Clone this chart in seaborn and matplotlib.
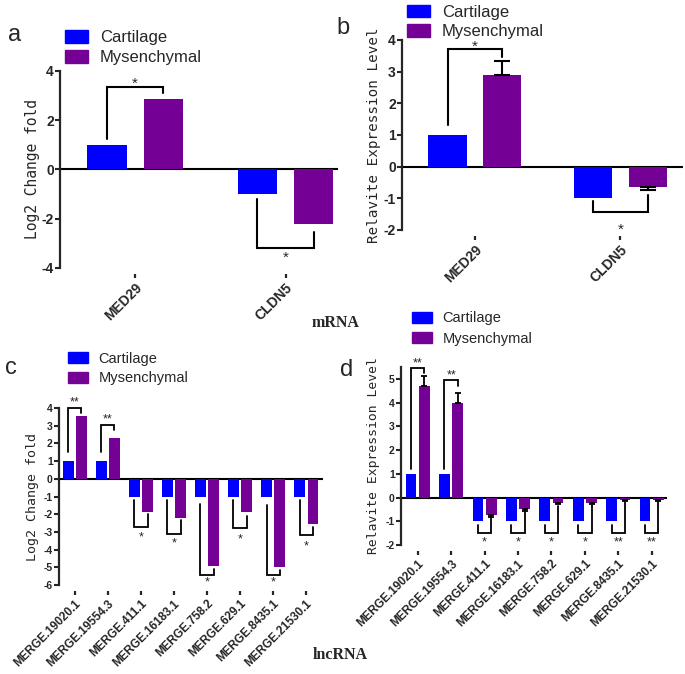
import numpy as np
import pandas as pd
import matplotlib
matplotlib.use("Agg")
import matplotlib.pyplot as plt
from matplotlib.patches import Patch
import seaborn as sns

# values
mrna_genes = ["MED29", "CLDN5"]
a_cartilage = [1.0, -1.0]
a_mysenchymal = [2.85, -2.2]
a_sig = ["*", "*"]

b_cartilage = [1.0, -1.0]
b_mysenchymal = [2.9, -0.65]
b_mys_err = [0.45, 0.08]
b_sig = ["*", "*"]

lnc_genes = ["MERGE.19020.1", "MERGE.19554.3", "MERGE.411.1", "MERGE.16183.1",
             "MERGE.758.2", "MERGE.629.1", "MERGE.8435.1", "MERGE.21530.1"]
c_cartilage = [1.0, 1.0, -1.0, -1.0, -1.0, -1.0, -1.0, -1.0]
c_mysenchymal = [3.55, 2.3, -1.85, -2.2, -4.95, -1.9, -5.0, -2.55]
c_sig = ["**", "**", "*", "*", "*", "*", "*", "*"]

d_cartilage = [1.0, 1.0, -1.0, -1.0, -1.0, -1.0, -1.0, -1.0]
d_mysenchymal = [4.7, 4.0, -0.75, -0.5, -0.25, -0.22, -0.12, -0.12]
d_mys_err = [0.42, 0.4, 0.07, 0.05, 0.04, 0.04, 0.04, 0.04]
d_sig = ["**", "**", "*", "*", "*", "*", "**", "**"]

# bracket placement: (start at cartilage, bracket level, end at mysenchymal, mark y)
a_br = [(1.25, 3.35, 3.1, 3.5), (-1.2, -3.2, -2.55, -3.6)]
b_br = [(1.33, 3.7, 3.45, 3.78), (-1.1, -1.42, -0.9, -2.0)]
c_br = [(1.5, 4.0, 3.7, 4.3), (1.5, 3.05, 2.75, 3.35), (-1.2, -2.75, -2.0, -3.3),
        (-1.2, -3.1, -2.3, -3.65), (-1.45, -5.45, -5.1, -5.85), (-1.2, -2.8, -2.1, -3.45),
        (-1.5, -5.45, -5.15, -5.85), (-1.2, -3.15, -2.7, -3.8)]
d_br = [(1.2, 5.45, 5.25, 5.65), (1.2, 4.95, 4.7, 5.15), (-1.15, -1.5, -0.88, -1.9),
        (-1.15, -1.5, -0.62, -1.9), (-1.15, -1.5, -0.36, -1.9), (-1.15, -1.5, -0.33, -1.9),
        (-1.15, -1.5, -0.2, -1.9), (-1.15, -1.5, -0.2, -1.9)]

blue = "#0000FF"
purple = "#740096"
pal = {"Cartilage": blue, "Mysenchymal": purple}

sns.set_style("ticks")
plt.rcParams["font.family"] = ["Liberation Sans", "DejaVu Sans"]

fig = plt.figure(figsize=(6.85, 6.74), dpi=100)


def panel(rect, genes, cart, mys, err, brs, sig, ylim, yticks, xlim, ylabel, label_x,
          lab_fs, width, gap, tfs, xfs, lw, cap, sfs):
    ax = fig.add_axes(rect)
    n = len(genes)
    df = pd.DataFrame({"gene": genes * 2, "value": cart + mys,
                       "tissue": ["Cartilage"] * n + ["Mysenchymal"] * n})
    sns.barplot(data=df, x="gene", y="value", hue="tissue", palette=pal,
                width=width, gap=gap, errorbar=None, saturation=1,
                linewidth=0, legend=False, ax=ax)
    cx = [p.get_x() + p.get_width() / 2 for p in ax.containers[0]]
    mx = [p.get_x() + p.get_width() / 2 for p in ax.containers[1]]
    if err is not None:
        for x, v, e in zip(mx, mys, err):
            yerr = [[0], [e]] if v > 0 else [[e], [0]]
            ax.errorbar([x], [v], yerr=yerr, fmt="none", ecolor="black",
                        elinewidth=lw, capsize=cap, capthick=lw)
    for x1, x2, (y1, lev, y2, ty), s in zip(cx, mx, brs, sig):
        ax.plot([x1, x1, x2, x2], [y1, lev, lev, y2], color="black", lw=lw,
                solid_joinstyle="miter", clip_on=False)
        ax.text((x1 + x2) / 2, ty, s, ha="center", va="center", fontsize=sfs)
    ax.axhline(0, color="black", lw=1.5, zorder=0.5)

    # spines first: moving a spine resets the ticks
    for s in ["top", "right"]:
        ax.spines[s].set_visible(False)
    ax.spines["bottom"].set_position(("outward", 4))
    ax.spines["bottom"].set_visible(False)
    ax.spines["left"].set_linewidth(1.6)
    ax.tick_params(axis="y", length=3.5, width=1.5, pad=1)
    ax.tick_params(axis="x", length=3, width=1.6, pad=2)

    ax.set_ylim(*ylim)
    ax.set_yticks(yticks, labels=[str(v) for v in yticks], fontweight="bold", fontsize=tfs)
    ax.set_xticks(range(n), labels=genes, fontweight="bold", fontsize=xfs, rotation=45,
                  ha="right", va="top", rotation_mode="anchor")
    ax.set_xlim(*xlim)
    ax.set_xlabel("")
    ax.set_ylabel(ylabel, fontsize=lab_fs, family="DejaVu Sans Mono")
    ax.yaxis.set_label_coords(label_x / 685, rect[1] + rect[3] / 2, transform=fig.transFigure)
    return ax


ax_a = panel([0.0876, 0.6024, 0.406, 0.2923], mrna_genes, a_cartilage, a_mysenchymal,
             None, a_br, a_sig, (-4, 4), [-4, -2, 0, 2, 4], (-0.5, 1.35),
             "Log2 Change fold", 40, 10.5, 0.75, 0.3, 10, 10, 1.5, 6, 11)
ax_b = panel([0.587, 0.6588, 0.41, 0.2819], mrna_genes, b_cartilage, b_mysenchymal,
             b_mys_err, b_br, b_sig, (-2, 4), [-2, -1, 0, 1, 2, 3, 4], (-0.5, 1.43),
             "Relavite Expression Level", 381, 10.3, 0.75, 0.3, 10, 10, 1.5, 6, 11)
ax_c = panel([0.0861, 0.132, 0.385, 0.2627], lnc_genes, c_cartilage, c_mysenchymal,
             None, c_br, c_sig, (-6, 4), list(range(-6, 5)), (-0.48, 7.5),
             "Log2 Change fold", 39, 9.5, 0.8, 0.2, 7.5, 8.5, 1.3, 2, 9)
ax_d = panel([0.5854, 0.1914, 0.388, 0.2641], lnc_genes, d_cartilage, d_mysenchymal,
             d_mys_err, d_br, d_sig, (-2, 5.5), list(range(-2, 6)), (-0.5, 7.45),
             "Relavite Expression Level", 380, 9.4, 0.8, 0.2, 7.5, 8.5, 1.3, 2, 9)

handles = [Patch(facecolor=blue, edgecolor=blue), Patch(facecolor=purple, edgecolor=purple)]
labels = ["Cartilage", "Mysenchymal"]
for x, y, fs, sp in [(0.095, 0.955, 12, 0.3), (0.594, 0.993, 12, 0.28),
                     (0.099, 0.478, 10.5, 0.38), (0.601, 0.538, 10.5, 0.42)]:
    fig.legend(handles, labels, loc="upper left", bbox_to_anchor=(x, y), frameon=False,
               fontsize=fs, borderpad=0, borderaxespad=0, handlelength=1.4,
               handleheight=0.75, handletextpad=0.7, labelspacing=sp)

for letter, x, y in [("a", 8, 35), ("b", 336, 28), ("c", 5, 368), ("d", 340, 370)]:
    fig.text(x / 685, 1 - y / 674, letter, fontsize=17, ha="left", va="center")

fig.text(336 / 685, 1 - 323 / 674, "mRNA", family="Liberation Serif", weight="bold",
         fontsize=11.5, ha="center", va="center")
fig.text(340 / 685, 1 - 655 / 674, "lncRNA", family="Liberation Serif", weight="bold",
         fontsize=11.5, ha="center", va="center")

fig.savefig("out.png", dpi=100)
